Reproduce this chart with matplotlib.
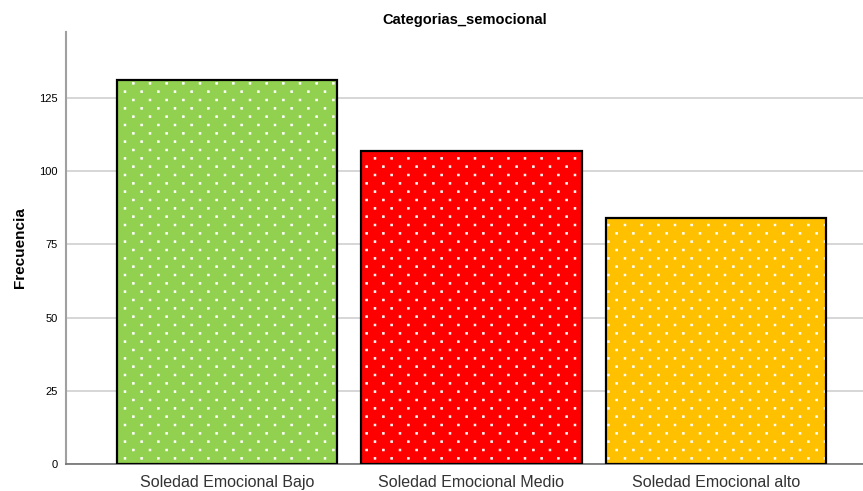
import matplotlib

matplotlib.use("Agg")
import matplotlib.pyplot as plt
import numpy as np
from matplotlib import hatch as mhatch
from matplotlib.path import Path

plt.rcParams["font.family"] = ["Liberation Sans", "DejaVu Sans"]
plt.rcParams["hatch.linewidth"] = 0.5

categories = ["Soledad Emocional Bajo", "Soledad Emocional Medio", "Soledad Emocional alto"]
counts = [131, 107, 84]
colors = ["#92d050", "#ff0000", "#ffc000"]
y_ticks = [0, 25, 50, 75, 100, 125]


class SpssDots(mhatch.HatchPatternBase):
    # SPSS style dot fill: staggered rows, twice as many rows as columns.
    # Replaces the stock '.' pattern so hatch="." gives this grid.
    def __init__(self, hatch, density):
        n = hatch.count(".")
        self.num_cols = n * 6
        self.num_rows = n * 12
        square = Path.unit_rectangle()
        self.shape_vertices = (square.vertices - 0.5) * 0.018
        self.shape_codes = square.codes
        per_row = [self.num_cols + 1 if r % 2 == 0 else self.num_cols
                   for r in range(self.num_rows + 1)] if n else []
        self.num_vertices = sum(per_row) * len(self.shape_vertices)

    def set_vertices_and_codes(self, vertices, codes):
        step = 1.0 / self.num_cols
        verts, cods = [], []
        for row in range(self.num_rows + 1):
            if row % 2 == 0:
                cols = np.linspace(0, 1, self.num_cols + 1)
            else:
                cols = np.linspace(step / 2, 1 - step / 2, self.num_cols)
            for col in cols:
                verts.append(self.shape_vertices + [col, row / self.num_rows])
                cods.append(self.shape_codes)
        vertices[:] = np.concatenate(verts)
        codes[:] = np.concatenate(cods)


mhatch._hatch_types = [SpssDots if t is mhatch.SmallFilledCircles else t
                       for t in mhatch._hatch_types]

fig = plt.figure(figsize=(8.63, 4.91), dpi=100)
ax = fig.add_axes([0.0765, 0.055, 0.9235, 0.88])

x = range(len(categories))
ax.bar(x, counts, width=0.9, color=colors, edgecolor="white", linewidth=0, hatch=".", zorder=2)
ax.bar(x, counts, width=0.9, fill=False, edgecolor="black", linewidth=1.6, zorder=3)

ax.set_xlim(-0.657, 2.6)
ax.set_ylim(0, 147.5)
ax.set_yticks(y_ticks)
ax.set_yticklabels([str(v) for v in y_ticks], fontsize=8)
ax.set_xticks(list(x))
ax.set_xticklabels(categories, fontsize=11.5, color="#333333")
ax.tick_params(axis="x", length=0, pad=8)
ax.tick_params(axis="y", length=0, pad=6)
ax.grid(axis="y", color="#d0d0d0", linewidth=1.2, zorder=0)

for side in ["top", "right"]:
    ax.spines[side].set_visible(False)
ax.spines["left"].set_color("#a0a0a0")
ax.spines["left"].set_linewidth(1.5)
ax.spines["bottom"].set_color("#707070")
ax.spines["bottom"].set_linewidth(1.2)

ax.set_ylabel("Frecuencia", fontsize=11, fontweight="bold", labelpad=9)
ax.set_title("Categorias_semocional", fontsize=10.5, fontweight="bold", pad=6)

fig.savefig("out.png", dpi=100)
